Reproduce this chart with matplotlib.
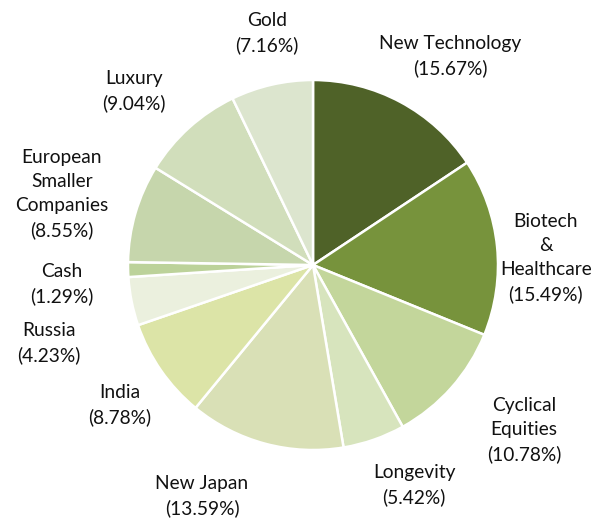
import matplotlib
matplotlib.use("Agg")
import matplotlib.pyplot as plt

categories = ["New Technology", "Biotech\n&\nHealthcare", "Cyclical\nEquities", "Longevity",
              "New Japan", "India", "Russia", "Cash", "European\nSmaller\nCompanies", "Luxury", "Gold"]
values = [15.67, 15.49, 10.78, 5.42, 13.59, 8.78, 4.23, 1.29, 8.55, 9.04, 7.16]
colors = ["#4F6228", "#77933C", "#C3D69B", "#D7E4BD", "#D9E0B6", "#DCE4A7",
          "#EBF0DE", "#BCD29A", "#C6D6AC", "#D1DEBB", "#DCE5CE"]
# label centres in units of the pie radius
label_pos = [(0.741, 1.130), (1.259, 0.038), (1.141, -0.892), (0.546, -1.189),
             (-0.600, -1.249), (-1.043, -0.757), (-1.427, -0.422), (-1.357, -0.103),
             (-1.357, 0.384), (-0.968, 0.941), (-0.249, 1.254)]

plt.rcParams['font.family'] = ['Lato', 'DejaVu Sans']
W, H = 608, 519
cx, cy, R = 313, 265, 185
fig = plt.figure(figsize=(W / 100, H / 100), dpi=100)
ax = fig.add_axes([0, 0, 1, 1])
ax.pie(values, colors=colors, startangle=90, counterclock=False, radius=1,
       wedgeprops=dict(edgecolor="white", linewidth=1.8))
for name, v, (lx, ly) in zip(categories, values, label_pos):
    ax.text(lx, ly, f"{name}\n({v:.2f}%)", ha="center", va="center",
            fontsize=13.8, color="#111111", linespacing=1.5)
ax.set_xlim(-cx / R, (W - cx) / R)
ax.set_ylim((cy - H) / R, cy / R)
ax.set_aspect("auto")
ax.axis("off")
fig.savefig("out.png", dpi=100)
